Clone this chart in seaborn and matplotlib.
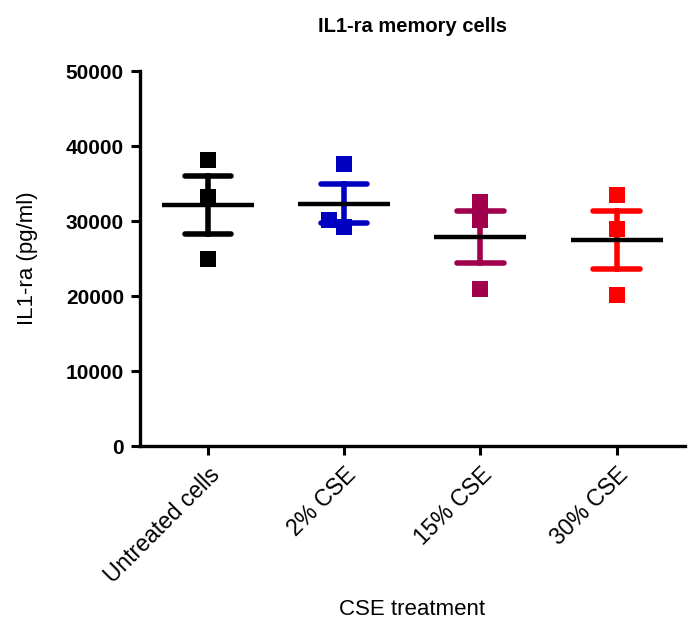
import matplotlib
matplotlib.use("Agg")
import matplotlib.pyplot as plt
import pandas as pd
import seaborn as sns

groups = ["Untreated cells", "2% CSE", "15% CSE", "30% CSE"]
untreated = [38200, 33250, 25000]
cse_2 = [37600, 29250, 30200]
cse_15 = [32500, 30200, 21000]
cse_30 = [33450, 28900, 20150]
colors = ["#000000", "#0000C0", "#A0004C", "#FF0000"]
y_ticks = [0, 10000, 20000, 30000, 40000, 50000]


def main() -> None:
    values = [untreated, cse_2, cse_15, cse_30]
    df = pd.DataFrame(
        [(g, v) for g, vals in zip(groups, values) for v in vals],
        columns=["group", "value"],
    )

    sns.set_theme(style="ticks")
    plt.rcParams["font.family"] = ["Liberation Sans", "DejaVu Sans"]
    for key in ["text.color", "axes.labelcolor", "xtick.color", "ytick.color"]:
        plt.rcParams[key] = "black"

    fig = plt.figure(figsize=(6.93, 6.41), dpi=100)
    ax = fig.add_axes([0.202, 0.304, 0.786, 0.585])

    palette = dict(zip(groups, colors))

    sns.swarmplot(data=df, x="group", y="value", hue="group", order=groups,
                  palette=palette, marker="s", size=11.5, linewidth=0,
                  legend=False, ax=ax, zorder=2)

    # mean +/- SEM
    sns.pointplot(data=df, x="group", y="value", hue="group", order=groups,
                  palette=palette, errorbar="se", capsize=0.34,
                  linestyle="none", markers="", err_kws={"linewidth": 4},
                  legend=False, ax=ax)
    sns.pointplot(data=df, x="group", y="value", order=groups, color="black",
                  errorbar=None, linestyle="none", markers="_",
                  markersize=66, markeredgewidth=3.2, ax=ax)

    ax.set_xlim(-0.5, 3.5)
    ax.set_ylim(0, 50000)
    ax.set_yticks(y_ticks)
    ax.set_yticklabels([str(t) for t in y_ticks], fontweight="bold", fontsize=15)
    ax.set_xticks(range(len(groups)))
    ax.set_xticklabels(groups, rotation=45, ha="right", rotation_mode="anchor",
                       fontsize=16.5)
    ax.tick_params(axis="both", width=2.2, length=6.5, color="black")
    ax.tick_params(axis="y", pad=5)
    ax.tick_params(axis="x", pad=6)
    for side in ["left", "bottom"]:
        ax.spines[side].set_linewidth(2.4)
        ax.spines[side].set_color("black")
    for side in ["top", "right"]:
        ax.spines[side].set_visible(False)

    ax.set_xlabel("CSE treatment", fontsize=16, labelpad=8)
    ax.set_ylabel("IL1-ra (pg/ml)", fontsize=16, labelpad=20)
    ax.set_title("IL1-ra memory cells", fontsize=14.5, fontweight="bold", pad=28)

    fig.savefig("out.png", dpi=100)


if __name__ == "__main__":
    main()
